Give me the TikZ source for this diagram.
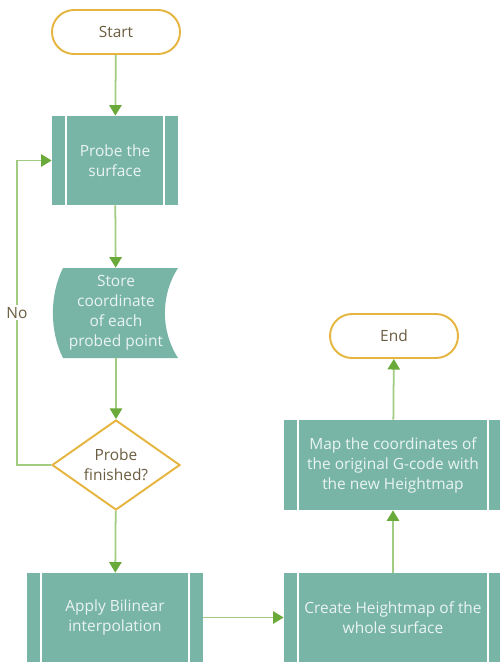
\documentclass[tikz,border=0pt]{standalone}
\usepackage{fontspec}
\setmainfont{Open Sans}
\usetikzlibrary{shapes.geometric,arrows.meta}
\definecolor{tealbox}{HTML}{78B5A7}
\definecolor{boxtext}{HTML}{EAF4F1}
\definecolor{termgold}{HTML}{E6B540}
\definecolor{termtext}{HTML}{6B5D40}
\definecolor{linegreen}{HTML}{A2CB82}
\definecolor{arrowgreen}{HTML}{6AAA3A}

\begin{document}
\begin{tikzpicture}[>={Triangle[width=7pt,length=6pt,color=arrowgreen]},
  every node/.style={font=\fontsize{8.8}{11.4}\selectfont, align=center},
  term/.style={draw=termgold, line width=1.1pt, fill=white, rounded corners=0.44cm,
    minimum width=2.56cm, minimum height=0.88cm, text=termtext},
  proc/.style={fill=tealbox, text=boxtext, minimum height=1.78cm, inner sep=0pt,
    path picture={\draw[white, line width=1.1pt]
      ([xshift=0.28cm]path picture bounding box.north west) -- ([xshift=0.28cm]path picture bounding box.south west)
      ([xshift=-0.28cm]path picture bounding box.north east) -- ([xshift=-0.28cm]path picture bounding box.south east);}},
  decide/.style={diamond, draw=termgold, line width=1.1pt, fill=white, aspect=1.42,
    minimum width=2.56cm, minimum height=1.8cm, inner sep=0pt, text=termtext},
  flow/.style={draw=linegreen, line width=1pt, ->}]
\useasboundingbox (0,0) rectangle (10,-13.28);

% left column
\node[term] (start) at (2.32,-0.64) {Start};
\node[proc, minimum width=2.52cm] (probe) at (2.30,-3.21) {Probe the\\surface};
\fill[tealbox] (1.26,-5.36) -- (3.56,-5.36)
  .. controls (3.21,-5.9) and (3.21,-6.62) .. (3.56,-7.16) -- (1.26,-7.16)
  .. controls (0.99,-6.62) and (0.99,-5.9) .. (1.26,-5.36) -- cycle;
\node[text=boxtext, minimum width=2.3cm, minimum height=1.8cm, inner sep=0pt] (store) at (2.32,-6.26)
  {Store\\coordinate\\of each\\probed point};
\node[decide] (check) at (2.32,-9.30) {Probe\\finished?};
\node[proc, minimum width=3.52cm] (apply) at (2.30,-12.35) {Apply Bilinear\\interpolation};

% right column
\node[proc, minimum width=4.36cm] (create) at (7.86,-12.35) {Create Heightmap of the\\whole surface};
\node[proc, minimum width=4.36cm, minimum height=1.8cm] (map) at (7.86,-9.30)
  {Map the coordinates of\\the original G-code with\\the new Heightmap};
\node[term] (end) at (7.88,-6.72) {End};

% connectors
\draw[flow] (start) -- (probe);
\draw[flow] (probe) -- (store);
\draw[flow] (store) -- (check);
\draw[flow] (check) -- (apply);
\draw[flow] (apply) -- (create);
\draw[flow] (create) -- (map);
\draw[flow] (map) -- (end);
\coordinate (back) at (0.34,-9.30);
\draw[flow] (check.west) -- (back) |- node[pos=0.25, fill=white, text=termtext, inner sep=1pt] {No} (probe.west);
\end{tikzpicture}
\end{document}
